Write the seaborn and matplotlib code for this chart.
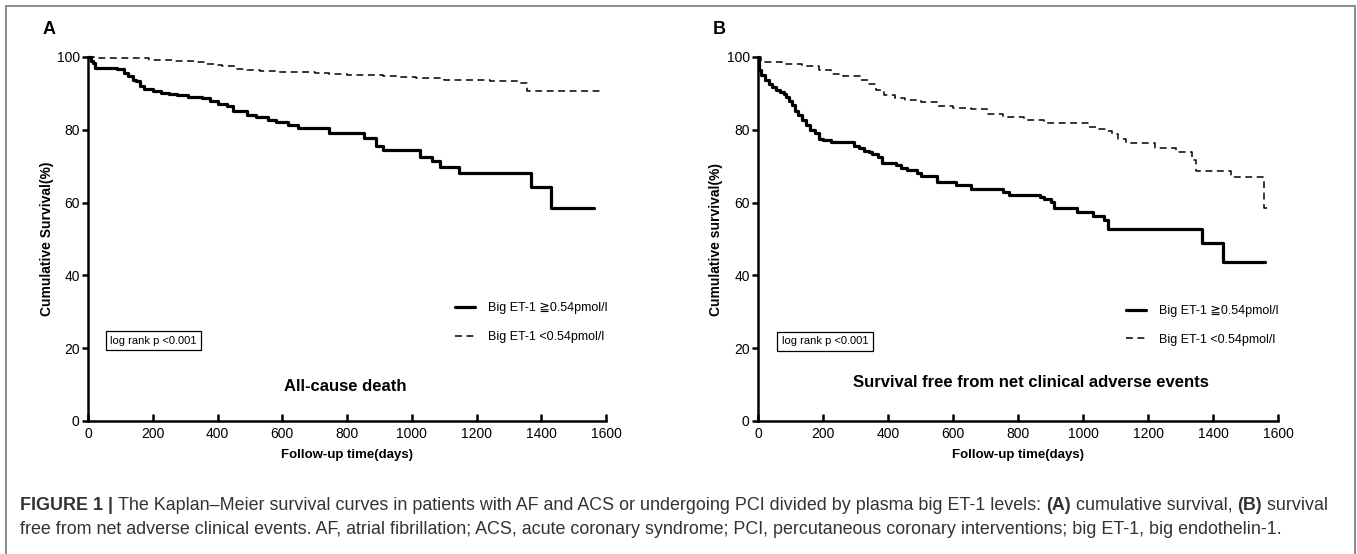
import matplotlib
matplotlib.use('Agg')
import matplotlib.pyplot as plt
import matplotlib.patches as patches
import seaborn as sns
import pandas as pd

# Kaplan-Meier step values (days, survival %)
a_high_t = [0, 8, 15, 22, 91, 110, 123, 140, 149, 161, 174, 200, 225, 250, 276, 310, 352, 377, 400,
            428, 447, 491, 520, 555, 580, 618, 650, 745, 853, 891, 910, 1025, 1063, 1088, 1146, 1368,
            1431, 1564]
a_high_s = [100, 99, 98.4, 97, 96.6, 95.5, 94.8, 93.8, 93.4, 92, 91.1, 90.6, 90.2, 89.9, 89.5, 89.1,
            88.8, 87.9, 87.2, 86.5, 85.1, 84.2, 83.5, 82.8, 82.1, 81.3, 80.5, 79.1, 77.7, 75.5, 74.5,
            72.4, 71.3, 69.9, 68.1, 64.4, 58.6, 58.6]
a_low_t = [0, 20, 98, 187, 263, 326, 364, 390, 415, 453, 490, 530, 580, 631, 700, 745, 800, 847, 910,
           960, 1012, 1101, 1241, 1330, 1355, 1584]
a_low_s = [100, 99.8, 99.6, 99.2, 98.9, 98.6, 98, 97.7, 97.4, 96.7, 96.4, 96.2, 96.0, 95.8, 95.5,
           95.3, 95.1, 95.0, 94.7, 94.5, 94.2, 93.8, 93.5, 92.9, 90.6, 90.6]

b_high_t = [0, 2, 4, 10, 23, 35, 42, 55, 67, 80, 86, 95, 105, 115, 124, 135, 149, 160, 174, 187,
            200, 225, 294, 310, 326, 340, 351, 370, 382, 426, 440, 458, 490, 502, 552, 609, 654, 755,
            773, 868, 880, 900, 912, 982, 1032, 1064, 1076, 1366, 1430, 1560]
b_high_s = [100, 98, 96.3, 95, 93.6, 92.5, 91.8, 91, 90.4, 89.8, 89.1, 88, 86.7, 85.3, 84, 82.6,
            81.3, 80, 79, 77.6, 77.2, 76.6, 75.5, 75, 74.3, 73.9, 73.3, 72.5, 71, 70.2, 69.6, 68.9,
            68, 67.2, 65.7, 64.8, 63.8, 62.9, 62.2, 61.6, 61.1, 60.2, 58.4, 57.4, 56.2, 55.1, 52.7,
            49, 43.6, 43.6]
b_low_t = [0, 10, 73, 136, 187, 225, 262, 313, 338, 363, 389, 420, 452, 502, 553, 600, 654, 704,
           755, 818, 881, 982, 1019, 1050, 1070, 1090, 1108, 1133, 1222, 1285, 1335, 1348, 1455,
           1556, 1577]
b_low_s = [100, 98.6, 98, 97.4, 96.3, 95.4, 94.7, 93.6, 92.7, 90.9, 89.5, 88.7, 88.1, 87.6, 86.5,
           86, 85.6, 84.3, 83.4, 82.7, 82, 81.8, 80.9, 80.3, 79.8, 78.8, 77.6, 76.4, 75.1, 73.9,
           71.6, 68.7, 67, 58.6, 58.6]

group_labels = ['Big ET-1 \u22670.54pmol/l', 'Big ET-1 <0.54pmol/l']
panel_letters = ['A', 'B']
panel_titles = ['All-cause death', 'Survival free from net clinical adverse events']
y_labels = ['Cumulative Survival(%)', 'Cumulative survival(%)']
x_label = 'Follow-up time(days)'
logrank_text = 'log rank p <0.001'
x_ticks = [0, 200, 400, 600, 800, 1000, 1200, 1400, 1600]
y_ticks = [0, 20, 40, 60, 80, 100]

sns.set_style('ticks')
plt.rcParams['font.family'] = ['Liberation Sans', 'DejaVu Sans']
plt.rcParams['axes.linewidth'] = 1.8
for key in ['text.color', 'axes.labelcolor', 'xtick.color', 'ytick.color', 'axes.edgecolor']:
    plt.rcParams[key] = 'black'

W, H = 1357, 554
fig = plt.figure(figsize=(W / 100, H / 100), dpi=100)

# outer gray frame
fig.patches.append(patches.Rectangle((6 / W, -0.05), (1355 - 6) / W, 1.05 - 6 / H,
                                     transform=fig.transFigure, fill=False,
                                     edgecolor='#8a8a8a', lw=1.4))

ax_px = [(88, 606), (758, 1278)]
top_px, bot_px = 57, 421
title_pos = [(0.496, 0.095), (0.524, 0.105)]
box_pos = [(203, 22.1), (206, 21.9)]
leg_anchor = [(0.708, 0.326), (0.708, 0.319)]

data = [
    (a_high_t, a_high_s, a_low_t, a_low_s),
    (b_high_t, b_high_s, b_low_t, b_low_s),
]

for i, (ht, hs, lt, ls) in enumerate(data):
    l, r = ax_px[i]
    ax = fig.add_axes([l / W, (H - bot_px) / H, (r - l) / W, (bot_px - top_px) / H])
    df_high = pd.DataFrame({'days': ht, 'surv': hs})
    df_low = pd.DataFrame({'days': lt, 'surv': ls})
    sns.lineplot(data=df_high, x='days', y='surv', ax=ax, color='black', lw=2.3,
                 drawstyle='steps-post', estimator=None, sort=False, clip_on=False,
                 label=group_labels[0])
    sns.lineplot(data=df_low, x='days', y='surv', ax=ax, color='black', lw=1.1,
                 linestyle=(0, (4.5, 3)), drawstyle='steps-post', estimator=None, sort=False,
                 clip_on=False, label=group_labels[1])

    ax.set_xlim(0, 1600)
    ax.set_ylim(0, 100)
    ax.set_xticks(x_ticks)
    ax.set_yticks(y_ticks)
    sns.despine(ax=ax)
    ax.tick_params(axis='x', direction='in', length=5, width=1.8, labelsize=10, pad=4)
    ax.tick_params(axis='y', direction='out', length=4, width=1.8, labelsize=10, pad=2)

    ax.set_xlabel(x_label, fontsize=9.5, fontweight='bold')
    ax.set_ylabel(y_labels[i], fontsize=10, fontweight='bold')
    ax.xaxis.label.set_va('center')
    ax.yaxis.label.set_va('center')
    ax.xaxis.set_label_coords(0.5, -0.093)
    ax.yaxis.set_label_coords(-0.08, 0.5)

    ax.text(title_pos[i][0], title_pos[i][1], panel_titles[i], transform=ax.transAxes,
            ha='center', va='center', fontsize=12, fontweight='bold')
    ax.text(box_pos[i][0], box_pos[i][1], logrank_text, ha='center', va='center', fontsize=8,
            bbox=dict(boxstyle='square,pad=0.4', fc='white', ec='black', lw=0.9))

    ax.legend(loc='upper left', bbox_to_anchor=leg_anchor[i], frameon=False, fontsize=9,
              handlelength=1.6, handletextpad=1.05, labelspacing=1.35, borderpad=0,
              borderaxespad=0)

    fig.text((l - 45) / W, 1 - 30 / H, panel_letters[i], fontsize=13, fontweight='bold',
             ha='left', va='center')

# caption with mixed bold / regular pieces
cap_lines = [
    [('FIGURE 1 | ', 'bold'),
     ('The Kaplan\u2013Meier survival curves in patients with AF and ACS or undergoing PCI divided '
      'by plasma big ET-1 levels: ', 'normal'),
     ('(A)', 'bold'), (' cumulative survival, ', 'normal'), ('(B)', 'bold'),
     (' survival', 'normal')],
    [('free from net adverse clinical events. AF, atrial fibrillation; ACS, acute coronary '
      'syndrome; PCI, percutaneous coronary interventions; big ET-1, big endothelin-1.', 'normal')],
]
cap_y = [505, 530]
cap_x0, cap_x1 = 20, 1322

renderer = fig.canvas.get_renderer()


def draw_line(pieces, y_px, size):
    x = cap_x0
    objs = []
    for txt, wt in pieces:
        t = fig.text(x / W, 1 - y_px / H, txt, fontsize=size, fontweight=wt,
                     color='#333333', ha='left', va='center')
        x += t.get_window_extent(renderer).width
        objs.append(t)
    return objs, x - cap_x0


objs, width = draw_line(cap_lines[0], cap_y[0], 11)
for o in objs:
    o.remove()
cap_size = 11 * (cap_x1 - cap_x0) / width
draw_line(cap_lines[0], cap_y[0], cap_size)
draw_line(cap_lines[1], cap_y[1], cap_size)

fig.savefig('out.png', dpi=100)
